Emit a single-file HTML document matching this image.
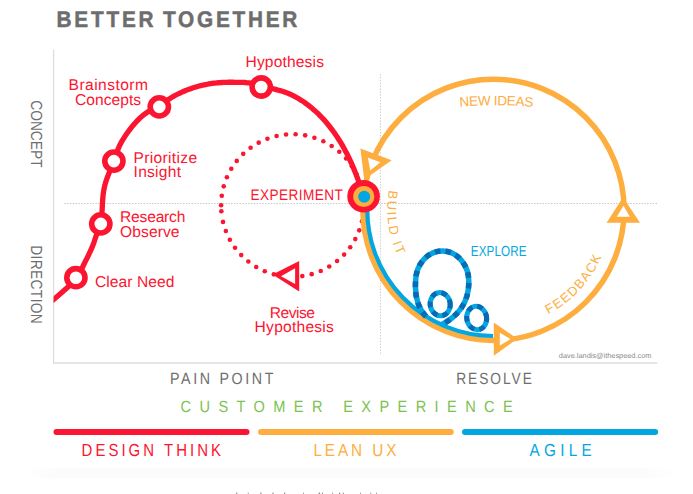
<!DOCTYPE html>
<html><head><meta charset="utf-8"><style>
html,body{margin:0;padding:0;background:#fff;}
svg{display:block;font-family:"Liberation Sans",sans-serif;text-rendering:geometricPrecision;}
</style></head><body>
<svg width="693" height="494" viewBox="0 0 693 494">
<line x1="53.6" y1="49.5" x2="53.6" y2="363.5" stroke="#dedede" stroke-width="1.3"/>
<line x1="53" y1="363.1" x2="657.5" y2="363.1" stroke="#dedede" stroke-width="1.5"/>
<line x1="64.2" y1="203.5" x2="657" y2="203.5" stroke="#c8c8c8" stroke-width="1" stroke-dasharray="1.5 1.33"/>
<line x1="380.5" y1="74" x2="380.5" y2="354" stroke="#cfcfcf" stroke-width="1" stroke-dasharray="1.5 1.4"/>
<text transform="translate(56.61,27.30) scale(0.9200,1)" font-size="22.6" font-weight="bold" fill="#6d6d6d" letter-spacing="2.993" stroke="#6d6d6d" stroke-width="0.5" word-spacing="-2">BETTER TOGETHER</text>
<g transform="translate(31.2,100.9) rotate(90)"><text  transform="translate(-0.70,0.00) scale(0.8600,1)" font-size="16" font-weight="normal" fill="#6e6e6e" letter-spacing="0.028" >CONCEPT</text></g>
<g transform="translate(31.2,246.4) rotate(90)"><text transform="translate(-1.13,0.00) scale(0.8600,1)" font-size="16" font-weight="normal" fill="#6e6e6e" letter-spacing="0.416" >DIRECTION</text></g>
<g fill="#fc1530"><circle cx="221.10" cy="205.25" r="2.3"/><circle cx="221.78" cy="195.70" r="2.3"/><circle cx="223.73" cy="186.33" r="2.3"/><circle cx="226.91" cy="177.30" r="2.3"/><circle cx="231.28" cy="168.78" r="2.3"/><circle cx="236.76" cy="160.92" r="2.3"/><circle cx="243.23" cy="153.87" r="2.3"/><circle cx="250.59" cy="147.74" r="2.3"/><circle cx="258.71" cy="142.66" r="2.3"/><circle cx="267.43" cy="138.72" r="2.3"/><circle cx="276.60" cy="135.97" r="2.3"/><circle cx="286.06" cy="134.48" r="2.3"/><circle cx="295.63" cy="134.27" r="2.3"/><circle cx="305.15" cy="135.35" r="2.3"/><circle cx="314.43" cy="137.69" r="2.3"/><circle cx="323.32" cy="141.25" r="2.3"/><circle cx="331.65" cy="145.98" r="2.3"/><circle cx="339.27" cy="151.77" r="2.3"/><circle cx="346.05" cy="158.54" r="2.3"/><circle cx="351.86" cy="166.15" r="2.3"/><circle cx="356.59" cy="174.47" r="2.3"/><circle cx="360.17" cy="183.35" r="2.3"/><circle cx="362.53" cy="192.63" r="2.3"/><circle cx="363.62" cy="202.14" r="2.3"/><circle cx="363.43" cy="211.71" r="2.3"/><circle cx="361.96" cy="221.18" r="2.3"/><circle cx="359.23" cy="230.35" r="2.3"/><circle cx="355.30" cy="239.08" r="2.3"/><circle cx="350.23" cy="247.21" r="2.3"/><circle cx="344.12" cy="254.58" r="2.3"/><circle cx="337.08" cy="261.07" r="2.3"/><circle cx="329.23" cy="266.55" r="2.3"/><circle cx="320.72" cy="270.94" r="2.3"/><circle cx="311.69" cy="274.14" r="2.3"/><circle cx="302.32" cy="276.11" r="2.3"/><circle cx="292.77" cy="276.80" r="2.3"/><circle cx="283.22" cy="276.21" r="2.3"/><circle cx="273.83" cy="274.34" r="2.3"/><circle cx="264.77" cy="271.23" r="2.3"/><circle cx="256.21" cy="266.93" r="2.3"/><circle cx="248.31" cy="261.53" r="2.3"/><circle cx="241.20" cy="255.12" r="2.3"/><circle cx="235.01" cy="247.81" r="2.3"/><circle cx="229.86" cy="239.74" r="2.3"/><circle cx="225.84" cy="231.05" r="2.3"/><circle cx="223.01" cy="221.90" r="2.3"/><circle cx="221.33" cy="211.22" r="2.3"/></g>
<circle cx="493.5" cy="209.8" r="130.6" fill="none" stroke="#fdae3f" stroke-width="5.5"/>
<path d="M367.38,205.40 A126.2,126.2 0 0 0 493.06,336.00" fill="none" stroke="#02a7e1" stroke-width="4.2"/>
<path d="M426,316.5 Q414,304 415.6,281 A26.6,30.5 0 0 1 468.8,282 C469,303 457,317 441,325" fill="none" stroke="#02a7e1" stroke-width="5.5"/><path d="M426,316.5 Q414,304 415.6,281 A26.6,30.5 0 0 1 468.8,282 C469,303 457,317 441,325" fill="none" stroke="#0b69b3" stroke-width="5.5" stroke-dasharray="5.6 5.1"/>
<ellipse cx="440.2" cy="304.2" rx="10" ry="11.6" transform="rotate(-8 440.2 304.2)" fill="none" stroke="#02a7e1" stroke-width="5"/><ellipse cx="440.2" cy="304.2" rx="10" ry="11.6" transform="rotate(-8 440.2 304.2)" fill="none" stroke="#0b69b3" stroke-width="5" stroke-dasharray="5.6 5.1"/>
<ellipse cx="476.7" cy="318" rx="9.9" ry="11.8" transform="rotate(-10 476.7 318)" fill="none" stroke="#02a7e1" stroke-width="5"/><ellipse cx="476.7" cy="318" rx="9.9" ry="11.8" transform="rotate(-10 476.7 318)" fill="none" stroke="#0b69b3" stroke-width="5" stroke-dasharray="5.6 5.1"/>
<polygon points="360.4,148.6 391.7,160.2 364.2,179.5" fill="#fdae3f"/><polygon points="368,157.7 380.4,162.3 370.2,170.4" fill="#fff"/>
<polygon points="623,197.3 606.6,222.8 640,222.8" fill="#fdae3f"/><polygon points="623.5,205.8 616.8,216.7 629.9,216.7" fill="#fff"/>
<polygon points="493.8,322.5 493.8,355.8 517.3,338.7" fill="#fdae3f"/><polygon points="499.8,332.8 499.8,345.5 510.5,339.1" fill="#fff"/>
<polygon points="272.5,274.6 299.2,260.9 299.2,291.6" fill="#fc1530"/><polygon points="281,276.2 295.1,268.2 295.1,283.9" fill="#fff"/>
<defs><clipPath id="cl"><rect x="53.6" y="0" width="700" height="494"/></clipPath></defs>
<path d="M48.00,304.20 L49.72,302.75 L51.45,301.31 L53.17,299.88 L54.89,298.45 L56.61,297.01 L58.34,295.54 L60.07,294.04 L61.80,292.50 L63.71,290.82 L65.70,289.11 L67.71,287.37 L69.72,285.61 L71.68,283.81 L73.53,281.98 L75.26,280.11 L76.80,278.20 L78.02,276.42 L79.12,274.55 L80.12,272.63 L81.04,270.69 L81.90,268.78 L82.71,266.91 L83.51,265.14 L84.30,263.50 L84.87,262.38 L85.41,261.33 L85.93,260.33 L86.43,259.36 L86.92,258.41 L87.41,257.44 L87.90,256.44 L88.40,255.40 L88.97,254.20 L89.55,252.97 L90.13,251.71 L90.71,250.44 L91.28,249.16 L91.84,247.87 L92.38,246.58 L92.90,245.30 L93.38,244.04 L93.83,242.77 L94.25,241.51 L94.67,240.24 L95.08,238.96 L95.50,237.68 L95.94,236.40 L96.40,235.10 L96.94,233.73 L97.52,232.37 L98.13,231.00 L98.75,229.62 L99.34,228.23 L99.90,226.82 L100.39,225.38 L100.80,223.90 L101.13,222.27 L101.39,220.58 L101.57,218.85 L101.71,217.11 L101.81,215.35 L101.90,213.60 L101.99,211.88 L102.10,210.20 L102.21,208.65 L102.29,207.10 L102.37,205.57 L102.44,204.04 L102.51,202.54 L102.59,201.06 L102.68,199.61 L102.80,198.20 L102.92,197.01 L103.04,195.85 L103.16,194.71 L103.30,193.60 L103.45,192.49 L103.61,191.40 L103.80,190.30 L104.00,189.20 L104.21,188.13 L104.43,187.10 L104.65,186.09 L104.90,185.08 L105.17,184.05 L105.47,182.97 L105.81,181.83 L106.20,180.60 L106.92,178.51 L107.79,176.21 L108.76,173.75 L109.81,171.19 L110.88,168.59 L111.95,166.00 L112.97,163.49 L113.90,161.10 L114.65,159.06 L115.36,157.02 L116.05,155.00 L116.72,153.01 L117.40,151.06 L118.09,149.17 L118.82,147.35 L119.60,145.60 L120.29,144.19 L120.99,142.85 L121.71,141.56 L122.45,140.31 L123.21,139.08 L123.98,137.86 L124.78,136.64 L125.60,135.40 L126.48,134.10 L127.40,132.79 L128.35,131.49 L129.32,130.19 L130.29,128.91 L131.27,127.67 L132.24,126.46 L133.20,125.30 L134.03,124.32 L134.85,123.37 L135.67,122.45 L136.49,121.55 L137.31,120.67 L138.14,119.82 L138.97,119.00 L139.80,118.20 L140.54,117.51 L141.25,116.87 L141.95,116.25 L142.66,115.64 L143.39,115.05 L144.17,114.45 L145.00,113.84 L145.90,113.20 L147.31,112.28 L148.86,111.35 L150.54,110.40 L152.28,109.44 L154.07,108.47 L155.86,107.49 L157.61,106.50 L159.30,105.50 L160.91,104.48 L162.51,103.43 L164.10,102.35 L165.68,101.27 L167.26,100.20 L168.83,99.15 L170.41,98.15 L172.00,97.20 L173.49,96.36 L174.97,95.54 L176.45,94.76 L177.93,94.00 L179.42,93.27 L180.92,92.56 L182.45,91.87 L184.00,91.20 L185.63,90.53 L187.30,89.88 L188.98,89.25 L190.68,88.64 L192.39,88.06 L194.10,87.51 L195.81,86.99 L197.50,86.50 L199.13,86.06 L200.75,85.65 L202.37,85.26 L204.00,84.90 L205.62,84.57 L207.25,84.26 L208.87,83.97 L210.50,83.70 L212.11,83.46 L213.72,83.24 L215.33,83.05 L216.94,82.88 L218.55,82.74 L220.17,82.61 L221.78,82.50 L223.40,82.40 L225.03,82.33 L226.69,82.28 L228.36,82.25 L230.02,82.24 L231.67,82.25 L233.29,82.26 L234.87,82.28 L236.40,82.30 L237.66,82.31 L238.86,82.32 L240.03,82.33 L241.18,82.34 L242.34,82.37 L243.51,82.42 L244.73,82.49 L246.00,82.60 L247.63,82.77 L249.32,82.96 L251.07,83.19 L252.85,83.46 L254.65,83.75 L256.45,84.07 L258.24,84.42 L260.00,84.80 L261.77,85.23 L263.54,85.72 L265.31,86.24 L267.08,86.79 L268.84,87.35 L270.58,87.91 L272.30,88.46 L274.00,88.98 L275.55,89.42 L277.07,89.84 L278.58,90.24 L280.08,90.64 L281.57,91.06 L283.05,91.50 L284.52,91.98 L286.00,92.52 L287.52,93.12 L289.04,93.76 L290.55,94.44 L292.06,95.14 L293.55,95.88 L295.05,96.66 L296.53,97.46 L298.00,98.30 L299.53,99.21 L301.07,100.16 L302.59,101.15 L304.11,102.17 L305.61,103.23 L307.09,104.31 L308.56,105.42 L310.00,106.54 L311.44,107.71 L312.86,108.91 L314.26,110.13 L315.64,111.38 L317.01,112.66 L318.36,113.96 L319.69,115.28 L321.00,116.62 L322.31,118.00 L323.61,119.40 L324.89,120.84 L326.15,122.29 L327.39,123.76 L328.61,125.26 L329.81,126.77 L331.00,128.30 L332.19,129.87 L333.36,131.47 L334.51,133.09 L335.65,134.72 L336.76,136.38 L337.86,138.05 L338.94,139.73 L340.00,141.43 L341.07,143.19 L342.12,144.97 L343.15,146.77 L344.16,148.58 L345.15,150.41 L346.13,152.24 L347.07,154.07 L348.00,155.91 L348.89,157.71 L349.75,159.52 L350.59,161.34 L351.41,163.16 L352.22,164.98 L353.00,166.80 L353.76,168.62 L354.50,170.43 L355.19,172.15 L355.85,173.86 L356.50,175.57 L357.13,177.27 L357.74,178.98 L358.34,180.69 L358.93,182.40 L359.50,184.12 L360.05,185.84 L360.59,187.57 L361.10,189.29 L361.60,191.03 L362.10,192.76 L362.60,194.49 L363.09,196.23 L363.60,197.96" fill="none" stroke="#fc1530" stroke-width="5.3" stroke-linejoin="round" clip-path="url(#cl)"/>
<circle cx="75.9" cy="277.7" r="9.1" fill="#fff" stroke="#fc1530" stroke-width="5.6"/>
<circle cx="100.8" cy="223.9" r="9.1" fill="#fff" stroke="#fc1530" stroke-width="5.6"/>
<circle cx="113.9" cy="161.1" r="9.1" fill="#fff" stroke="#fc1530" stroke-width="5.6"/>
<circle cx="159.3" cy="106.9" r="9.1" fill="#fff" stroke="#fc1530" stroke-width="5.6"/>
<circle cx="261.2" cy="87" r="9.1" fill="#fff" stroke="#fc1530" stroke-width="5.6"/>
<circle cx="363.6" cy="196.3" r="16.3" fill="#fc1530"/><circle cx="363.8" cy="196.5" r="10.6" fill="#fdae3f"/><circle cx="364.2" cy="196.8" r="6" fill="#02a7e1"/>
<text x="245.52" y="66.90" font-size="15.6" font-weight="normal" fill="#fc1530" letter-spacing="0.141" >Hypothesis</text>
<text x="68.62" y="90.10" font-size="15.6" font-weight="normal" fill="#fc1530" letter-spacing="0.443" >Brainstorm</text>
<text x="75.10" y="104.60" font-size="15.6" font-weight="normal" fill="#fc1530" letter-spacing="0.007" >Concepts</text>
<text x="133.42" y="163.30" font-size="15.6" font-weight="normal" fill="#fc1530" letter-spacing="0.342" >Prioritize</text>
<text x="133.56" y="177.20" font-size="15.6" font-weight="normal" fill="#fc1530" letter-spacing="0.248" >Insight</text>
<text x="120.02" y="222.40" font-size="15.6" font-weight="normal" fill="#fc1530" letter-spacing="-0.196" >Research</text>
<text x="120.07" y="236.50" font-size="15.6" font-weight="normal" fill="#fc1530" letter-spacing="0.078" >Observe</text>
<text x="95.00" y="287.40" font-size="15.6" font-weight="normal" fill="#fc1530" letter-spacing="0.065" >Clear Need</text>
<text transform="translate(250.39,200.30) scale(0.9000,1)" font-size="15.1" font-weight="normal" fill="#fc1530" letter-spacing="0.504" >EXPERIMENT</text>
<text x="269.72" y="317.60" font-size="15.6" font-weight="normal" fill="#fc1530" letter-spacing="-0.485" >Revise</text>
<text x="254.62" y="331.60" font-size="15.6" font-weight="normal" fill="#fc1530" letter-spacing="0.230" >Hypothesis</text>
<text transform="translate(470.84,256.40) scale(0.8000,1)" font-size="14.6" font-weight="normal" fill="#02a7e1" letter-spacing="0.101" >EXPLORE</text>
<defs><path id="pNew" d="M395,117.9 A400,400 0 0 1 595,117.9" fill="none"/><path id="pBuild" d="M389.25,189.54 A106.2,106.2 0 0 0 401.53,262.90" fill="none"/><path id="pFeed" d="M546.98,314.76 A117.8,117.8 0 0 0 607.29,240.29" fill="none"/></defs>
<text font-size="13.6" fill="#fdae3f" text-anchor="middle" letter-spacing="-0.4"><textPath href="#pNew" startOffset="50.6%">NEW IDEAS</textPath></text>
<text font-size="13" fill="#fdae3f" letter-spacing="1.9"><textPath href="#pBuild" startOffset="0.5">BUILD IT</textPath></text>
<text font-size="13" fill="#fdae3f" letter-spacing="1.35"><textPath href="#pFeed" startOffset="1.5">FEEDBACK</textPath></text>
<text transform="translate(170.03,383.70) scale(0.8800,1)" font-size="16.2" font-weight="normal" fill="#6e6e6e" letter-spacing="3.000" >PAIN POINT</text>
<text transform="translate(456.17,384.10) scale(0.8500,1)" font-size="16.2" font-weight="normal" fill="#6e6e6e" letter-spacing="2.292" >RESOLVE</text>
<text transform="translate(180.56,412.30) scale(0.9000,1)" font-size="16.2" font-weight="normal" fill="#7cc250" letter-spacing="9.325" >CUSTOMER EXPERIENCE</text>
<text x="558.8" y="358" font-size="7.2" fill="#8a8a8a" textLength="92.6" lengthAdjust="spacingAndGlyphs">dave.landis@ithespeed.com</text>
<rect x="53.5" y="429" width="196" height="6" rx="3" fill="#fc1530"/>
<rect x="258" y="429" width="195.8" height="6" rx="3" fill="#fdae3f"/>
<rect x="462" y="429" width="196.1" height="6" rx="3" fill="#02a7e1"/>
<text transform="translate(81.57,456.00) scale(0.8600,1)" font-size="17.4" font-weight="normal" fill="#fc1530" letter-spacing="3.526" >DESIGN THINK</text>
<text transform="translate(313.44,455.80) scale(0.8800,1)" font-size="17.4" font-weight="normal" fill="#fdae3f" letter-spacing="3.306" >LEAN UX</text>
<text transform="translate(529.47,456.00) scale(0.8800,1)" font-size="17.4" font-weight="normal" fill="#02a7e1" letter-spacing="4.881" >AGILE</text>
<defs><linearGradient id="gb" x1="0" x2="1"><stop offset="0" stop-color="#fbfbfb" stop-opacity="0"/><stop offset="0.06" stop-color="#fbfbfb"/><stop offset="0.94" stop-color="#fbfbfb"/><stop offset="1" stop-color="#fbfbfb" stop-opacity="0"/></linearGradient></defs><rect x="22" y="468.5" width="656" height="9.7" fill="url(#gb)"/>
<g fill="#8a8a8a"><rect x="236.1" y="492.6" width="1.2" height="1.4"/><rect x="247.8" y="492.6" width="0.8" height="1.4"/><rect x="260.3" y="492.6" width="1.2" height="1.4"/><rect x="272.4" y="492.6" width="1.2" height="1.4"/><rect x="284.0" y="492.6" width="1.2" height="1.4"/><rect x="303.2" y="492.6" width="0.8" height="1.4"/><rect x="318.6" y="492.6" width="1.5" height="1.4"/><rect x="322.0" y="492.6" width="1" height="1.4"/><rect x="332.3" y="492.6" width="0.8" height="1.4"/><rect x="339.0" y="492.6" width="1.2" height="1.4"/><rect x="342.8" y="492.6" width="1" height="1.4"/><rect x="360.0" y="492.6" width="0.8" height="1.4"/><rect x="370.4" y="492.6" width="0.8" height="1.4"/><rect x="376.2" y="492.6" width="0.8" height="1.4"/></g>
</svg>
</body></html>
